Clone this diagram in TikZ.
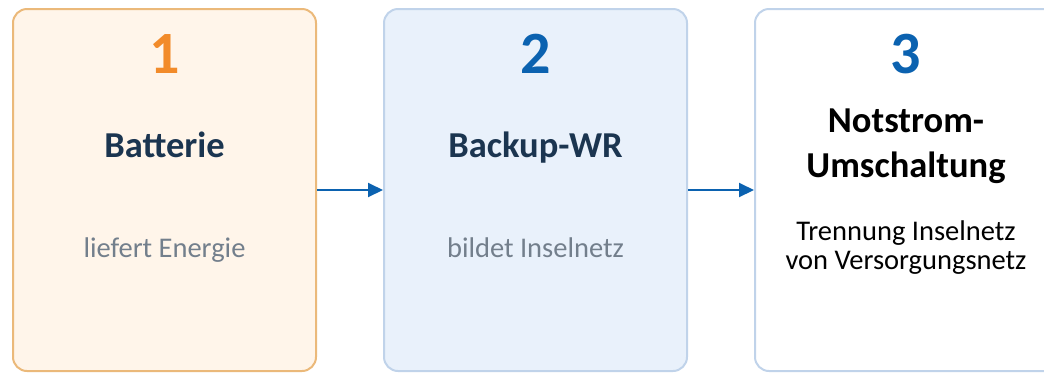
\documentclass[tikz,border=0pt]{standalone}
\usepackage{fontspec}
\setmainfont{Carlito}
\usetikzlibrary{positioning, arrows.meta}
\definecolor{warmfill}{HTML}{FFF5EA}
\definecolor{warmline}{HTML}{EBB97A}
\definecolor{coolfill}{HTML}{E9F1FB}
\definecolor{coolline}{HTML}{C0D3EA}
\definecolor{numorange}{HTML}{F28B2A}
\definecolor{numblue}{HTML}{0B62B0}
\definecolor{navy}{HTML}{1B3550}
\definecolor{slate}{HTML}{737F8C}

\begin{document}
\begin{tikzpicture}[x=1pt, y=-1pt,
  card/.style={draw, line width=2pt, rounded corners=14pt, minimum width=303pt, minimum height=362pt, inner sep=0pt},
  num/.style={anchor=base, font=\fontsize{60}{60}\selectfont\bfseries},
  title/.style={anchor=base, align=center, font=\fontsize{36.5}{45}\selectfont\bfseries},
  sub/.style={anchor=base, align=center, font=\fontsize{28.5}{28.5}\selectfont},
  flow/.style={-{Triangle[length=15pt, width=14pt]}, line width=2pt, draw=numblue}]
  \useasboundingbox (0,0) rectangle (1044,373);
  \clip (0,0) rectangle (1044,373);
  % the three cards
  \node[card, draw=warmline, fill=warmfill] (b1) at (164.5,190) {};
  \node[card, draw=coolline, fill=coolfill] (b2) at (535.5,190) {};
  \node[card, draw=coolline, fill=white] (b3) at (906.5,190) {};
  % card texts
  \node[num, text=numorange] (n1) at (164.5,73) {1};
  \node[title, text=navy] (t1) at (164.5,157) {Batterie};
  \node[sub, text=slate] (s1) at (164.5,257) {liefert Energie};
  \node[num, text=numblue] (n2) at (535.5,73) {2};
  \node[title, text=navy] (t2) at (535.5,157) {Backup-WR};
  \node[sub, text=slate] (s2) at (535.5,257) {bildet Inselnetz};
  \node[num, text=numblue] (n3) at (906,73) {3};
  \node[title, text=black] (t3) at (906,177) {Notstrom-\\Umschaltung};
  \node[sub, text=black] (s3) at (906,269) {Trennung Inselnetz\\von Versorgungsnetz};
  % arrows
  \draw[flow] (b1) -- (b2);
  \draw[flow] (b2) -- (b3);
\end{tikzpicture}
\end{document}
